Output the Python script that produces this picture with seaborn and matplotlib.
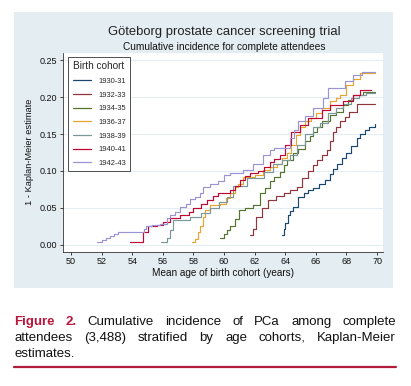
#Importing Libraries and default settings
import pandas as pd
import numpy as np
import matplotlib.pyplot as plt
import seaborn as sns
from matplotlib.patches import Rectangle
from matplotlib.lines import Line2D

sns.set_style("white")
plt.rcParams["font.family"] = ["Liberation Sans", "DejaVu Sans"]

#Data (age in years, 1 - KM estimate)
cohorts = ["1930-31", "1932-33", "1934-35", "1936-37", "1938-39", "1940-41", "1942-43"]
colors = ["#1a476f", "#90353b", "#55752f", "#e6a52e", "#7a979a", "#c10534", "#9a94d4"]

age_1930 = [63.77, 63.9, 64.0, 64.15, 64.3, 64.53, 64.86, 65.2, 65.5, 65.84, 66.2, 66.6, 66.9,
            67.1, 67.36, 67.7, 68.0, 68.3, 68.67, 68.9, 69.2, 69.5, 69.87]
km_1930 = [0.0135, 0.022, 0.03, 0.04, 0.046, 0.052, 0.065, 0.07, 0.074, 0.077, 0.082, 0.088, 0.096,
           0.103, 0.110, 0.118, 0.125, 0.134, 0.144, 0.15, 0.156, 0.16, 0.163]

age_1932 = [61.7, 61.9, 62.1, 62.5, 62.9, 63.4, 63.9, 64.3, 64.75, 65.1, 65.5, 65.8, 66.06, 66.4,
            66.7, 66.9, 67.1, 67.3, 67.6, 67.9, 68.2, 68.67, 69.87]
km_1932 = [0.0135, 0.022, 0.038, 0.05, 0.061, 0.066, 0.07, 0.074, 0.079, 0.09, 0.10, 0.108, 0.115,
           0.122, 0.128, 0.14, 0.153, 0.16, 0.167, 0.173, 0.18, 0.191, 0.191]

age_1934 = [59.74, 60.0, 60.2, 60.4, 60.7, 61.0, 61.4, 61.9, 62.35, 62.7, 63.0, 63.3, 63.66, 63.9,
            64.1, 64.5, 64.86, 65.3, 65.6, 65.84, 66.1, 66.4, 66.9, 67.3, 67.8, 68.1, 68.45, 69.1, 69.87]
km_1934 = [0.009, 0.015, 0.02, 0.025, 0.035, 0.047, 0.05, 0.054, 0.07, 0.077, 0.086, 0.092, 0.099, 0.108,
           0.115, 0.124, 0.13, 0.14, 0.147, 0.153, 0.16, 0.167, 0.176, 0.18, 0.189, 0.196, 0.203, 0.207, 0.207]

age_1936 = [57.9, 58.1, 58.3, 58.43, 58.6, 58.76, 59.08, 59.74, 60.1, 60.4, 60.7, 60.9, 61.26, 62.0,
            62.56, 63.0, 63.44, 63.8, 64.1, 64.4, 64.7, 64.97, 65.3, 65.7, 66.0, 66.4, 66.9, 67.3,
            67.6, 68.0, 68.45, 68.9, 69.87]
km_1936 = [0.0045, 0.008, 0.018, 0.025, 0.038, 0.047, 0.054, 0.056, 0.063, 0.07, 0.078, 0.083, 0.092, 0.094,
           0.101, 0.105, 0.110, 0.117, 0.124, 0.135, 0.149, 0.16, 0.168, 0.172, 0.178, 0.185, 0.194, 0.198,
           0.203, 0.216, 0.225, 0.232, 0.233]

age_1938 = [55.9, 56.3, 56.5, 56.7, 57.8, 58.5, 59.1, 59.7, 60.2, 60.6, 61.5, 62.6, 63.2, 63.8, 64.3,
            64.8, 65.3, 65.8, 66.3, 66.8, 67.3, 67.8, 68.3, 68.8, 69.3, 69.87]
km_1938 = [0.0045, 0.009, 0.02, 0.034, 0.038, 0.043, 0.05, 0.058, 0.065, 0.08, 0.09, 0.099, 0.110, 0.115, 0.122,
           0.135, 0.15, 0.16, 0.165, 0.178, 0.185, 0.19, 0.198, 0.203, 0.205, 0.205]

age_1940 = [53.86, 54.7, 55.05, 55.6, 56.0, 56.5, 57.1, 57.7, 58.0, 58.5, 58.9, 59.3, 59.6, 60.4, 60.7,
            61.05, 61.4, 61.7, 62.2, 62.6, 63.0, 63.3, 63.66, 64.0, 64.4, 64.97, 65.5, 66.4, 66.9,
            67.8, 68.45, 68.9, 69.6]
km_1940 = [0.0045, 0.018, 0.025, 0.027, 0.031, 0.036, 0.040, 0.045, 0.05, 0.056, 0.061, 0.066, 0.07, 0.074, 0.08,
           0.088, 0.093, 0.097, 0.1, 0.105, 0.112, 0.116, 0.122, 0.135, 0.153, 0.162, 0.171, 0.182, 0.189,
           0.194, 0.203, 0.209, 0.209]

age_1942 = [51.68, 52.0, 52.3, 52.55, 52.8, 53.1, 54.75, 54.9, 55.3, 55.8, 56.25, 56.5, 56.8, 57.1, 57.5,
            57.8, 58.1, 58.4, 58.6, 59.1, 59.6, 60.0, 60.4, 61.26, 61.9, 62.57, 63.0, 63.3, 64.3, 64.6,
            64.86, 65.3, 65.84, 66.5, 66.8, 67.6, 67.9, 68.45, 69.0, 69.87]
km_1942 = [0.0045, 0.007, 0.009, 0.012, 0.015, 0.017, 0.022, 0.026, 0.027, 0.029, 0.036, 0.04, 0.045, 0.052, 0.056,
           0.062, 0.065, 0.07, 0.079, 0.083, 0.086, 0.095, 0.097, 0.101, 0.11, 0.122, 0.128, 0.131, 0.144, 0.155,
           0.167, 0.175, 0.185, 0.198, 0.212, 0.212, 0.221, 0.23, 0.234, 0.234]

ages = [age_1930, age_1932, age_1934, age_1936, age_1938, age_1940, age_1942]
kms = [km_1930, km_1932, km_1934, km_1936, km_1938, km_1940, km_1942]

yticks = [0.00, 0.05, 0.10, 0.15, 0.20, 0.25]
xticks = [50, 52, 54, 56, 58, 60, 62, 64, 66, 68, 70]

#Long format table for seaborn
frames = []
for c, a, k in zip(cohorts, ages, kms):
    frames.append(pd.DataFrame({"age": a, "km": k, "cohort": c}))
df = pd.concat(frames, ignore_index=True)

#Figure and background panel
W, H = 411, 386
fig = plt.figure(figsize=(W / 100, H / 100), dpi=100)
fig.patch.set_facecolor("white")

def fx(px):
    return px / W

def fy(py):
    return 1 - py / H

panel_col = "#e4edf1"
fig.patches.append(Rectangle((fx(14), fy(288)), fx(393) - fx(14), fy(12) - fy(288),
                             transform=fig.transFigure, facecolor=panel_col,
                             edgecolor="none", zorder=-5))

ax = fig.add_axes([fx(63), fy(252), (383 - 63) / W, (252 - 53) / H])
ax.set_facecolor("white")
ax.set_zorder(1)

sns.lineplot(
    data=df,
    x="age",
    y="km",
    hue="cohort",
    hue_order=cohorts,
    palette=colors,
    estimator=None,
    drawstyle="steps-post",
    linewidth=0.85,
    ax=ax
)

ax.set_xlim(49.48, 70.39)
ax.set_ylim(-0.0095, 0.2595)
ax.set_xticks(xticks)
ax.set_yticks(yticks)
ax.set_xticklabels([str(t) for t in xticks])
ax.set_yticklabels(["%.2f" % t for t in yticks])
ax.tick_params(axis="both", labelsize=6.5, length=2.5, width=0.6, direction="out",
               left=True, bottom=True, colors="#222222")
ax.tick_params(axis="x", pad=1)
ax.tick_params(axis="y", pad=2)
for t in ax.get_xticklabels() + ax.get_yticklabels():
    t.set_color("#111111")
for s in ["top", "right"]:
    ax.spines[s].set_visible(False)
for s in ["left", "bottom"]:
    ax.spines[s].set_color("#333333")
    ax.spines[s].set_linewidth(0.6)
ax.grid(axis="y", color=panel_col, linewidth=0.8)
ax.set_axisbelow(True)
ax.set_xlabel("")
ax.set_ylabel("")

#Legend
handles, labels = ax.get_legend_handles_labels()
leg = ax.legend(handles, labels, title="Birth cohort", loc="upper left",
                bbox_to_anchor=(0.016, 0.98), borderaxespad=0, fontsize=5.4,
                title_fontsize=7.2, handlelength=2.4, handletextpad=1.0,
                labelspacing=0.85, borderpad=0.6, fancybox=False,
                framealpha=1, edgecolor="#333333")
leg.get_frame().set_linewidth(0.6)
leg._legend_box.align = "left"
for h in leg.get_lines():
    h.set_linewidth(0.9)

#Titles and axis labels
fig.text(fx(224), fy(32), "Göteborg prostate cancer screening trial", ha="center",
         va="center", fontsize=9.4, color="#222222")
fig.text(fx(224), fy(47), "Cumulative incidence for complete attendees", ha="center",
         va="center", fontsize=7.3, color="#111111")
fig.text(fx(30), fy(152), "1 - Kaplan-Meier estimate", rotation=90, ha="center",
         va="center", fontsize=6.7, color="#111111")
fig.text(fx(223), fy(273), "Mean age of birth cohort (years)", ha="center",
         va="center", fontsize=7.2, color="#111111")

#Caption, justified
red = "#b8163a"
caption_lines = [
    ["Figure", "2.", "Cumulative", "incidence", "of", "PCa", "among", "complete"],
    ["attendees", "(3,488)", "stratified", "by", "age", "cohorts,", "Kaplan-Meier"],
    ["estimates."],
]
line_y = [322, 338, 354]
left, right = 14, 396
renderer = fig.canvas.get_renderer()
for i, words in enumerate(caption_lines):
    texts = []
    for w in words:
        bold = (i == 0 and w in ("Figure", "2."))
        t = fig.text(0, fy(line_y[i]), w, ha="left", va="center", fontsize=9.5,
                     color=red if bold else "#111111",
                     fontweight="bold" if bold else "normal")
        texts.append(t)
    widths = [t.get_window_extent(renderer).width for t in texts]
    if len(texts) > 1 and i < len(caption_lines) - 1:
        gap = (right - left - sum(widths)) / (len(texts) - 1)
    else:
        gap = 4
    x = left
    for t, wd in zip(texts, widths):
        t.set_x(fx(x))
        x += wd + gap

fig.lines.append(Line2D([fx(14), fx(396)], [fy(367), fy(367)], transform=fig.transFigure,
                        color="#b01c3a", linewidth=1.6))

fig.savefig("out.png", dpi=100)
plt.close()
